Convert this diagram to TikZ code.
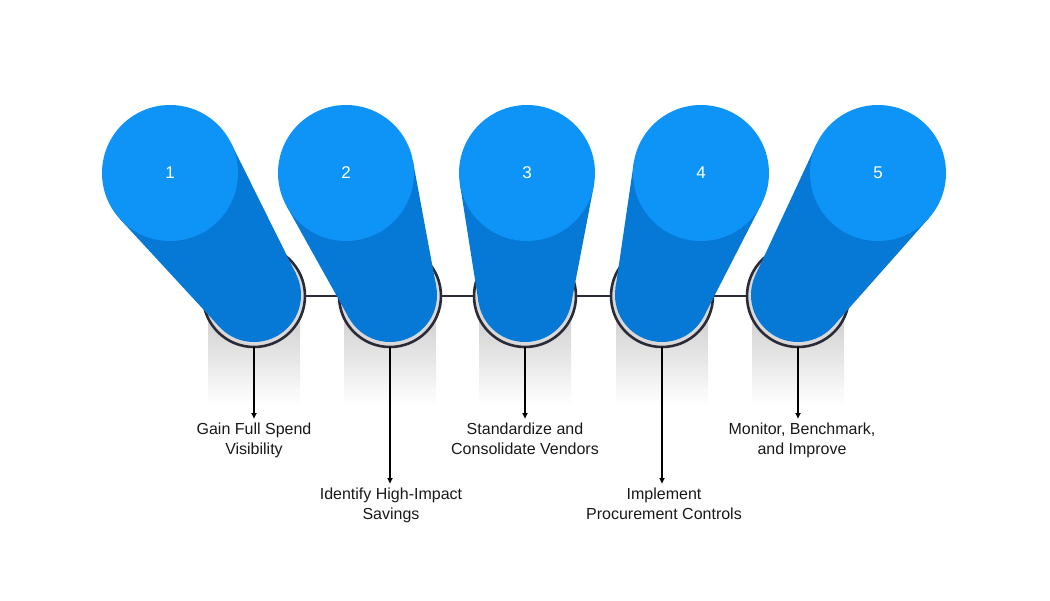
\documentclass[tikz,border=0pt]{standalone}
\usepackage{fontspec}
\setmainfont{Liberation Sans}
\usetikzlibrary{arrows.meta}
\definecolor{topc}{HTML}{0E93F6}
\definecolor{bodyc}{HTML}{0679D6}
\definecolor{ringc}{HTML}{2B2B38}
\begin{document}
\begin{tikzpicture}[x=1pt,y=-1pt,
  lbl/.style={font=\fontsize{16}{20}\selectfont,align=center,text=black!90,anchor=north},
  num/.style={font=\fontsize{17}{20}\selectfont,text=white},
  arr/.style={-{Latex[length=6pt,width=6pt]},line width=1.1pt,black}]
\useasboundingbox (0,0) rectangle (1050,600);
% shadows
\foreach \cx in {254,390,525,662,798}{
  \shade[top color=black!22,bottom color=white] (\cx-46,298) rectangle (\cx+46,405);
}
\draw[ringc,line width=2.6pt] (254,296) -- (798,296);
\foreach \cx/\i in {254/1,390/2,525/3,662/4,798/5}{
  \draw[ringc,line width=2.6pt,fill=black!15] (\cx,296) circle[radius=51];
}
% arrows and labels
\coordinate (b1) at (254,347); \coordinate (b2) at (390,347); \coordinate (b3) at (525,347);
\coordinate (b4) at (662,347); \coordinate (b5) at (798,347);
\node[lbl] (l1) at (254,419) {Gain Full Spend\\Visibility};
\node[lbl] (l2) at (391,484) {Identify High-Impact\\Savings};
\node[lbl] (l3) at (525,419) {Standardize and\\Consolidate Vendors};
\node[lbl] (l4) at (664,484) {Implement\\Procurement Controls};
\node[lbl] (l5) at (802,419) {Monitor, Benchmark,\\and Improve};
\foreach \i in {1,...,5}{ \draw[arr] (b\i) -- (l\i.north -| b\i); }
% pillars
\foreach \tx/\bx/\i in {170/254/1,346/390/2,527/525/3,701/662/4,878/798/5}{
  \pgfmathsetmacro{\dx}{\bx-\tx}
  \pgfmathsetmacro{\dy}{295-173}
  \pgfmathsetmacro{\L}{veclen(\dx,\dy)}
  \pgfmathsetmacro{\ux}{\dx/\L}
  \pgfmathsetmacro{\uy}{\dy/\L}
  \pgfmathsetmacro{\a}{(68-47)/\L}
  \pgfmathsetmacro{\b}{sqrt(1-\a*\a)}
  \fill[bodyc] (\tx+68*\a*\ux-68*\b*\uy, 173+68*\a*\uy+68*\b*\ux)
     -- (\bx+47*\a*\ux-47*\b*\uy, 295+47*\a*\uy+47*\b*\ux)
     -- (\bx+47*\a*\ux+47*\b*\uy, 295+47*\a*\uy-47*\b*\ux)
     -- (\tx+68*\a*\ux+68*\b*\uy, 173+68*\a*\uy-68*\b*\ux) -- cycle;
  \fill[bodyc] (\bx,295) circle[radius=47];
  \fill[topc] (\tx,173) circle[radius=68];
  \node[num] (n\i) at (\tx,173) {\i};
}
\end{tikzpicture}
\end{document}
